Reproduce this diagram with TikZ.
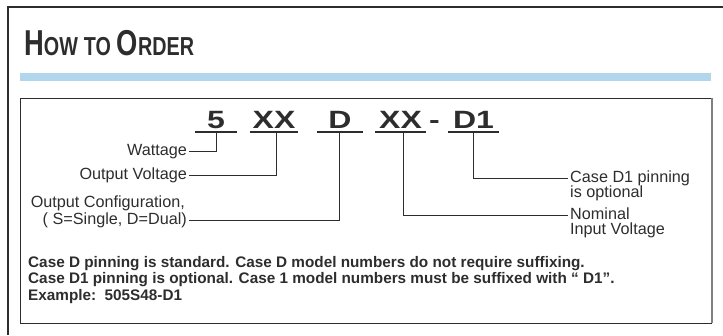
\documentclass[tikz,border=0pt]{standalone}
\usepackage{fontspec}
\setmainfont{Liberation Sans}
\newfontfamily\headfont[FakeStretch=0.76]{Liberation Sans}
\newfontfamily\codefont[FakeStretch=1.28]{Liberation Sans}
\usepackage{tikz}
\usetikzlibrary{positioning}
\definecolor{barblue}{RGB}{178,214,236}
\definecolor{inkgray}{RGB}{45,45,45}
\newcommand\scword[2]{{\fontsize{36}{36}\selectfont #1}{\fontsize{26}{26}\selectfont #2}}
\tikzset{
        heading/.style={
                inner sep=0pt,
                anchor=base west,
                text=inkgray,
                font=\headfont\bfseries\fontsize{28}{28}\selectfont
            },
        codepart/.style={
                inner sep=0pt,
                anchor=base,
                text height=18pt,
                text depth=4pt,
                text=inkgray,
                font=\codefont\bfseries\fontsize{25}{25}\selectfont
            },
        callout/.style={
                inner xsep=2pt,
                inner ysep=0pt,
                text height=11.6pt,
                text depth=3.2pt,
                text=inkgray,
                font=\fontsize{16.2}{18}\selectfont
            },
        remark/.style={
                inner sep=0pt,
                anchor=base west,
                align=left,
                text=inkgray,
                font=\bfseries\fontsize{15.3}{16.5}\selectfont
            },
        underbar/.style={draw=inkgray, line width=1.8pt},
        leader/.style={draw=inkgray, line width=0.8pt}
}
\begin{document}
\begin{tikzpicture}[x=1pt,y=-1pt]
  \useasboundingbox (0,0) rectangle (723,335);
  % Frame and title
  \draw[inkgray, line width=1.2pt] (8,335) -- (8,7) -- (723,7);
  \node[heading] (title) at (24,55.5) {\scword{H}{OW} \scword{}{TO} \scword{O}{RDER}};
  \fill[barblue] (20,73) rectangle (711,81);
  \draw[inkgray, line width=0.8pt] (712,98) -- (20,98) -- (20,323) -- (712,323);
  \draw[gray, line width=1.6pt] (712,97.6) -- (712,323.4);
  % Model number parts
  \node[codepart, minimum width=42pt] (part5) at (216,128) {5};
  \node[codepart, minimum width=48pt] (partXXa) at (274,128) {XX};
  \node[codepart, minimum width=46pt] (partD) at (340,128) {D};
  \node[codepart, minimum width=51pt] (partXXb) at (400.5,128) {XX};
  \node[codepart] (partdash) at (434.5,128) {-};
  \node[codepart, minimum width=51pt] (partD1) at (473.5,128) {D1};
  \foreach \p in {part5,partXXa,partD,partXXb,partD1}
    \draw[underbar] (\p.south west) -- (\p.south east);
  % Left callouts
  \node[callout, anchor=east] (watt) at (189,151) {Wattage};
  \node[callout, anchor=east] (outv) at (189,175) {Output Voltage};
  \node[callout, anchor=east] (cfgB) at (189,220) {( S=Single, D=Dual)};
  \node[callout, above left=2pt and 2pt of cfgB.north east] (cfgA) {Output Configuration,};
  % Right callouts
  \node[callout, anchor=west] (pinA) at (568,178) {Case D1 pinning};
  \node[callout, below right=0pt and 0pt of pinA.south west] (pinB) {is optional};
  \node[callout, anchor=west] (nomA) at (568,215) {Nominal};
  \node[callout, below right=0pt and 0pt of nomA.south west] (nomB) {Input Voltage};
  % Leaders
  \draw[leader] (part5.south) |- (watt.east);
  \draw[leader] ([xshift=2pt]partXXa.south) |- (outv.east);
  \draw[leader] ([xshift=-1pt]partD.south) |- (cfgB.east);
  \draw[leader] ([xshift=2.5pt]partXXb.south) |- (nomA.west);
  \draw[leader] (partD1.south) |- (pinA.west);
  % Notes
  \node[remark] (notes) at (28,300) {Case D pinning is standard. Case D model numbers do not require suffixing.\\
    Case D1 pinning is optional. Case 1 model numbers must be suffixed with “ D1”.\\
    Example:\ \ 505S48-D1};
\end{tikzpicture}
\end{document}
